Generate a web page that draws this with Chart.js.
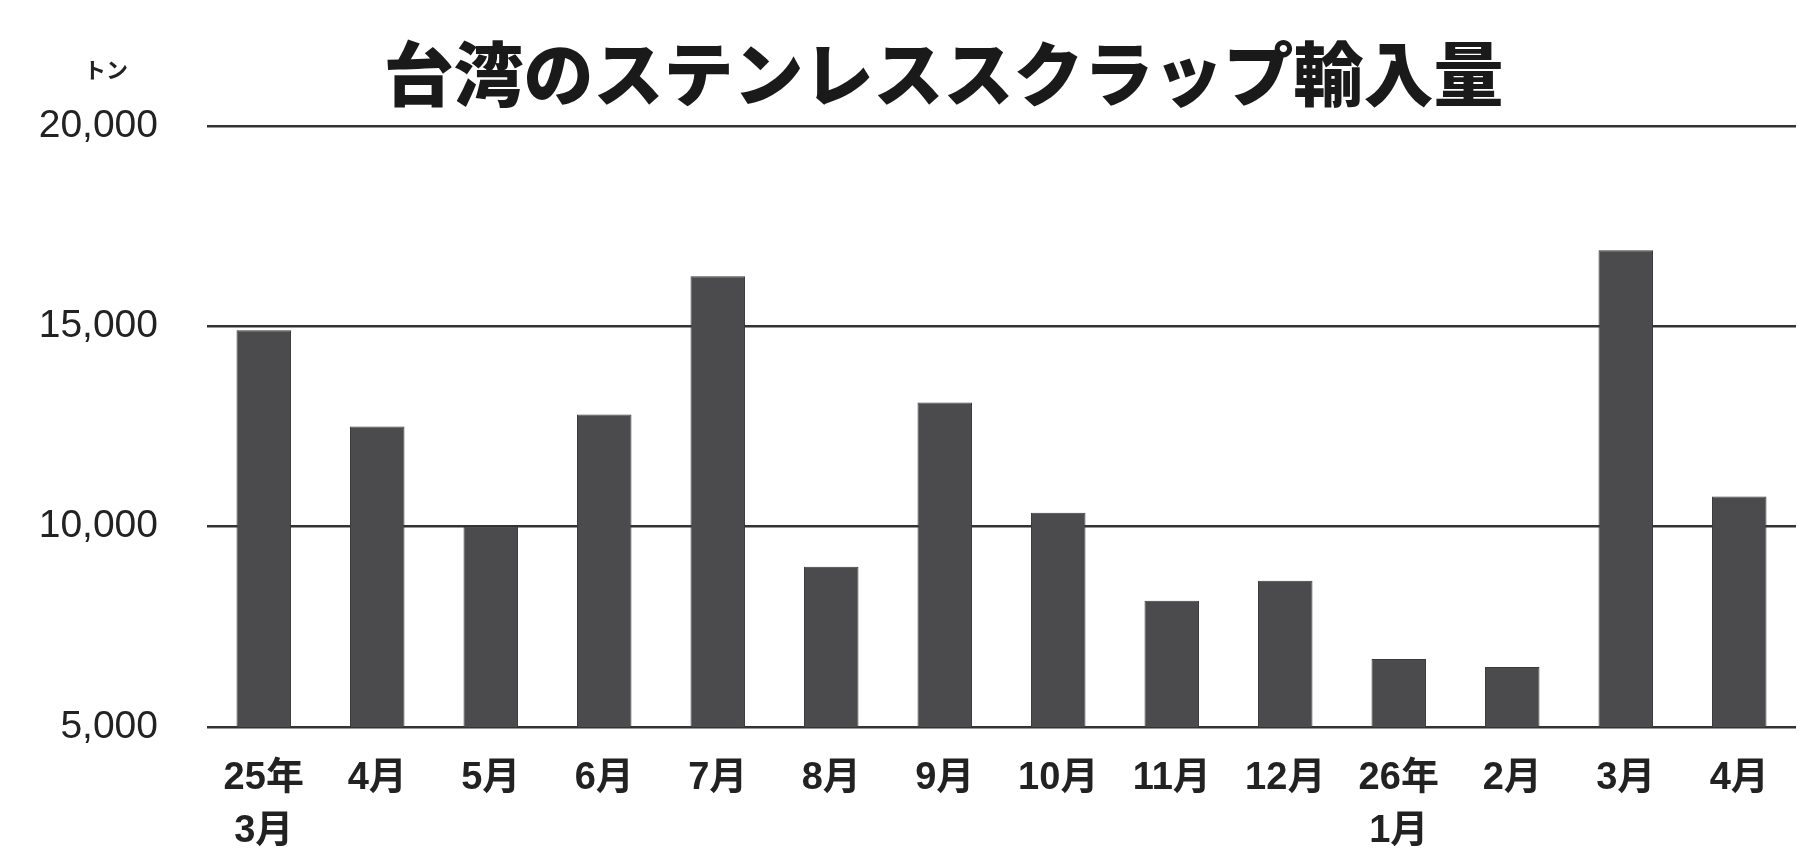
<!DOCTYPE html>
<html>
<head>
<meta charset="utf-8">
<script src="https://cdn.jsdelivr.net/npm/chart.js@4"></script>
<style>
  html, body { margin: 0; padding: 0; background: #fff; }
  #wrap { width: 1817px; height: 849px; }
</style>
</head>
<body>
<div id="wrap"><canvas id="myChart"></canvas></div>
<script>
// months (multi-line labels where the year starts)
let months = [['25年', '3月'], '4月', '5月', '6月', '7月', '8月', '9月', '10月', '11月', '12月', ['26年', '1月'], '2月', '3月', '4月'];
// import volume, tonnes
let tonnes = [14900, 12500, 10000, 12800, 16250, 9000, 13100, 10350, 8150, 8650, 6700, 6500, 16900, 10750];
let yTicks = [5000, 10000, 15000, 20000];

let titleText = '台湾のステンレススクラップ輸入量';
let unitText = 'トン';

let latin = "'Liberation Sans', 'Noto Sans CJK JP', sans-serif";

// title sits a bit left of the plot centre, unit label above the y labels
let headings = {
    id: 'headings',
    afterDraw(chart) {
        let c = chart.ctx;
        let a = chart.chartArea;
        c.save();
        c.fillStyle = '#1a1a1a';
        c.textAlign = 'center';
        c.textBaseline = 'middle';
        c.font = "900 70px 'Noto Sans CJK JP', sans-serif";
        c.fillText(titleText, (a.left + a.right) / 2 - 58, a.top - 52);
        c.fillStyle = '#222';
        c.font = 'bold 22px ' + latin;
        c.fillText(unitText, a.left - 101, a.top - 54);
        c.restore();
    }
};

let ctx = document.getElementById('myChart').getContext('2d');
let chart = new Chart(ctx, {
    type: 'bar',
    data: {
        labels: months,
        datasets: [{
            data: tonnes,
            backgroundColor: '#4b4a4d',
            borderColor: '#3a393c',
            borderWidth: 1,
            categoryPercentage: 1,
            barPercentage: 0.48
        }]
    },
    options: {
        responsive: true,
        maintainAspectRatio: false,
        animation: false,
        layout: { padding: { left: 20, right: 21, top: 126, bottom: 0 } },
        plugins: {
            legend: { display: false },
            tooltip: { enabled: false },
            title: { display: false }
        },
        scales: {
            x: {
                grid: { display: false, drawTicks: false },
                border: { display: false },
                ticks: {
                    color: '#222',
                    font: { family: latin, size: 38, weight: 'bold', lineHeight: 1.4 },
                    padding: 25,
                    maxRotation: 0,
                    autoSkip: false
                },
                afterFit(s) { s.height = 122; }
            },
            y: {
                min: 5000,
                max: 20000,
                afterBuildTicks(s) { s.ticks = yTicks.map(v => ({ value: v })); },
                grid: { color: '#333', lineWidth: 2.5, drawTicks: false },
                border: { display: false },
                ticks: {
                    color: '#222',
                    font: { family: latin, size: 39 },
                    padding: 49,
                    callback: v => v.toLocaleString('en-US')
                },
                afterFit(s) { s.width = 187; }
            }
        }
    },
    plugins: [headings]
});
</script>
</body>
</html>
